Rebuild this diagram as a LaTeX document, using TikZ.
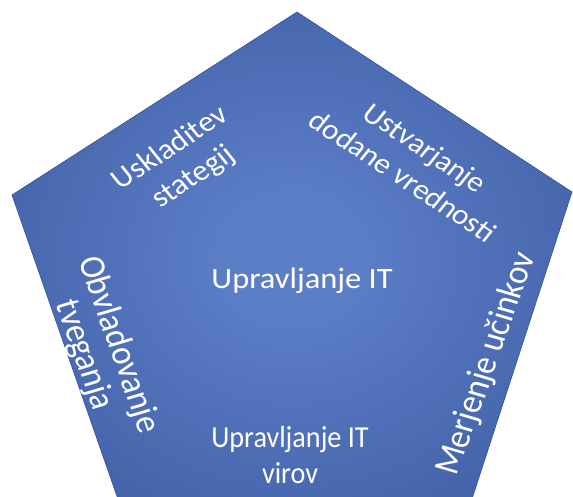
\documentclass[tikz,border=0pt]{standalone}
\usepackage{fontspec}
\setmainfont{Carlito}
\definecolor{pentIn}{RGB}{92,126,198}
\definecolor{pentOut}{RGB}{44,73,145}
\definecolor{pentRim}{RGB}{36,62,128}
\definecolor{pentEdge}{RGB}{50,82,156}
% light blue centre fading to a deep blue rim
\pgfdeclareradialshading{pentshade}{\pgfpoint{0bp}{0bp}}{%
  color(0bp)=(pentIn); color(6bp)=(pentIn); color(50bp)=(pentOut); color(72bp)=(pentRim)}
\begin{document}
\begin{tikzpicture}[x=1pt,y=1pt,
  lbl/.style={text=white, font=\fontsize{29}{35}\selectfont, align=center, inner sep=0pt},
  sidelbl/.style={lbl, font=\fontsize{33}{33}\selectfont}]
\useasboundingbox (0,0) rectangle (573,497);
% corners of the pentagon
\coordinate (top) at (297,485);
\coordinate (rgt) at (572,305);
\coordinate (brt) at (470,-8);
\coordinate (blf) at (120,-8);
\coordinate (lft) at (12,302);
\shade[shading=pentshade, draw=pentEdge, line width=0.6pt]
  (top) -- (rgt) -- (brt) -- (blf) -- (lft) -- cycle;
% label anchors
\coordinate (pCore) at (302,208);
\coordinate (pAlign) at (182,334);
\coordinate (pValue) at (414,335);
\coordinate (pMeasure) at (487,133);
\coordinate (pRisk) at (101,147);
\coordinate (pRes) at (290,42);
% the lettering is slightly widened, rotated labels with it
\begin{scope}[xscale=1.1, transform shape]
  \node[lbl, anchor=base, font=\fontsize{29.5}{35}\selectfont] (core) at (pCore) {Upravljanje IT};
  \node[lbl, rotate=36, font=\fontsize{29}{36}\selectfont] (align) at (pAlign) {Uskladitev\\stategij};
  \node[lbl, rotate=-36, font=\fontsize{28.5}{35}\selectfont] (value) at (pValue) {Ustvarjanje\\dodane vrednosti};
  \node[sidelbl, rotate=72] (measure) at (pMeasure) {Merjenje učinkov};
  \node[sidelbl, rotate=-72] (risk) at (pRisk) {Obvladovanje\\tveganja};
  \node[lbl, xscale=0.84, font=\fontsize{30.5}{36}\selectfont] (res) at (pRes) {Upravljanje IT\\virov};
\end{scope}
\end{tikzpicture}
\end{document}
